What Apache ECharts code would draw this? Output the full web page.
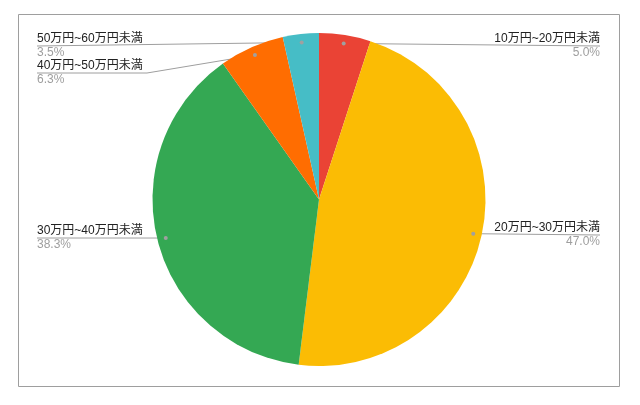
<!DOCTYPE html>
<html>
<head>
<meta charset="utf-8">
<script src="https://cdn.jsdelivr.net/npm/echarts@6/dist/echarts.min.js"></script>
<style>
    html, body { margin: 0; padding: 0; background: #fff; }
    #chart { width: 640px; height: 405px; }
</style>
</head>
<body>
<div id="chart"></div>
<script>
// データ
const categories = ['10万円~20万円未満', '20万円~30万円未満', '30万円~40万円未満', '40万円~50万円未満', '50万円~60万円未満'];
const shares = [5.0, 47.0, 38.3, 6.3, 3.5];
const colors = ['#ea4335', '#fbbc04', '#34a853', '#ff6d01', '#46bdc6'];

// レイアウト
const cx = 319, cy = 199.5, r = 166.5;
const dotR = 158;
const leftX = 37, rightX = 600;
const labelPos = [
    { side: 'right', y: 46, bend: null },
    { side: 'right', y: 235, bend: null },
    { side: 'left', y: 238, bend: null },
    { side: 'left', y: 73, bend: 147 },
    { side: 'left', y: 46, bend: null }
];

const total = shares.reduce((a, b) => a + b, 0);

// スライス中央の点（円周より少し内側）
function dotPoint(i) {
    let before = 0;
    for (let k = 0; k < i; k++) before += shares[k];
    const a = (before + shares[i] / 2) / total * Math.PI * 2;
    return [cx + dotR * Math.sin(a), cy - dotR * Math.cos(a)];
}

document.addEventListener('DOMContentLoaded', function() {
    const chart = echarts.init(document.getElementById('chart'));

    const dots = shares.map((v, i) => {
        const p = dotPoint(i);
        return {
            type: 'circle',
            z: 100,
            shape: { cx: p[0], cy: p[1], r: 2 },
            style: { fill: '#a0a0a0' }
        };
    });

    const option = {
        animation: false,
        textStyle: { fontFamily: '"Liberation Sans", Arial, "Noto Sans CJK JP", sans-serif' },
        graphic: [
            {
                type: 'rect',
                shape: { x: 18.5, y: 14.5, width: 601, height: 372 },
                style: { fill: 'none', stroke: '#9e9e9e', lineWidth: 1 }
            }
        ].concat(dots),
        series: [{
            type: 'pie',
            center: [cx, cy],
            radius: r,
            startAngle: 90,
            clockwise: true,
            avoidLabelOverlap: false,
            emphasis: { disabled: true },
            itemStyle: { borderWidth: 0 },
            data: categories.map((name, i) => ({
                name: name,
                value: shares[i],
                itemStyle: { color: colors[i] }
            })),
            label: {
                show: true,
                position: 'outside',
                formatter: function(p) {
                    return '{n|' + p.name + '}\n{p|' + shares[p.dataIndex].toFixed(1) + '%}';
                },
                rich: {
                    n: { fontSize: 12, color: '#222', lineHeight: 14 },
                    p: { fontSize: 12, color: '#9e9e9e', lineHeight: 14 }
                }
            },
            labelLine: {
                show: true,
                lineStyle: { color: '#9e9e9e', width: 1 }
            },
            labelLayout: function(params) {
                const i = params.dataIndex;
                const L = labelPos[i];
                const endX = L.side === 'right' ? rightX : leftX;
                const d = dotPoint(i);
                const pts = [d];
                if (L.bend !== null) pts.push([L.bend, L.y]);
                pts.push([endX, L.y]);
                return {
                    x: endX,
                    y: L.y,
                    align: L.side === 'right' ? 'right' : 'left',
                    verticalAlign: 'middle',
                    labelLinePoints: pts
                };
            }
        }]
    };
    chart.setOption(option);

    window.addEventListener('resize', function() {
        chart.resize();
    });
});
</script>
</body>
</html>
